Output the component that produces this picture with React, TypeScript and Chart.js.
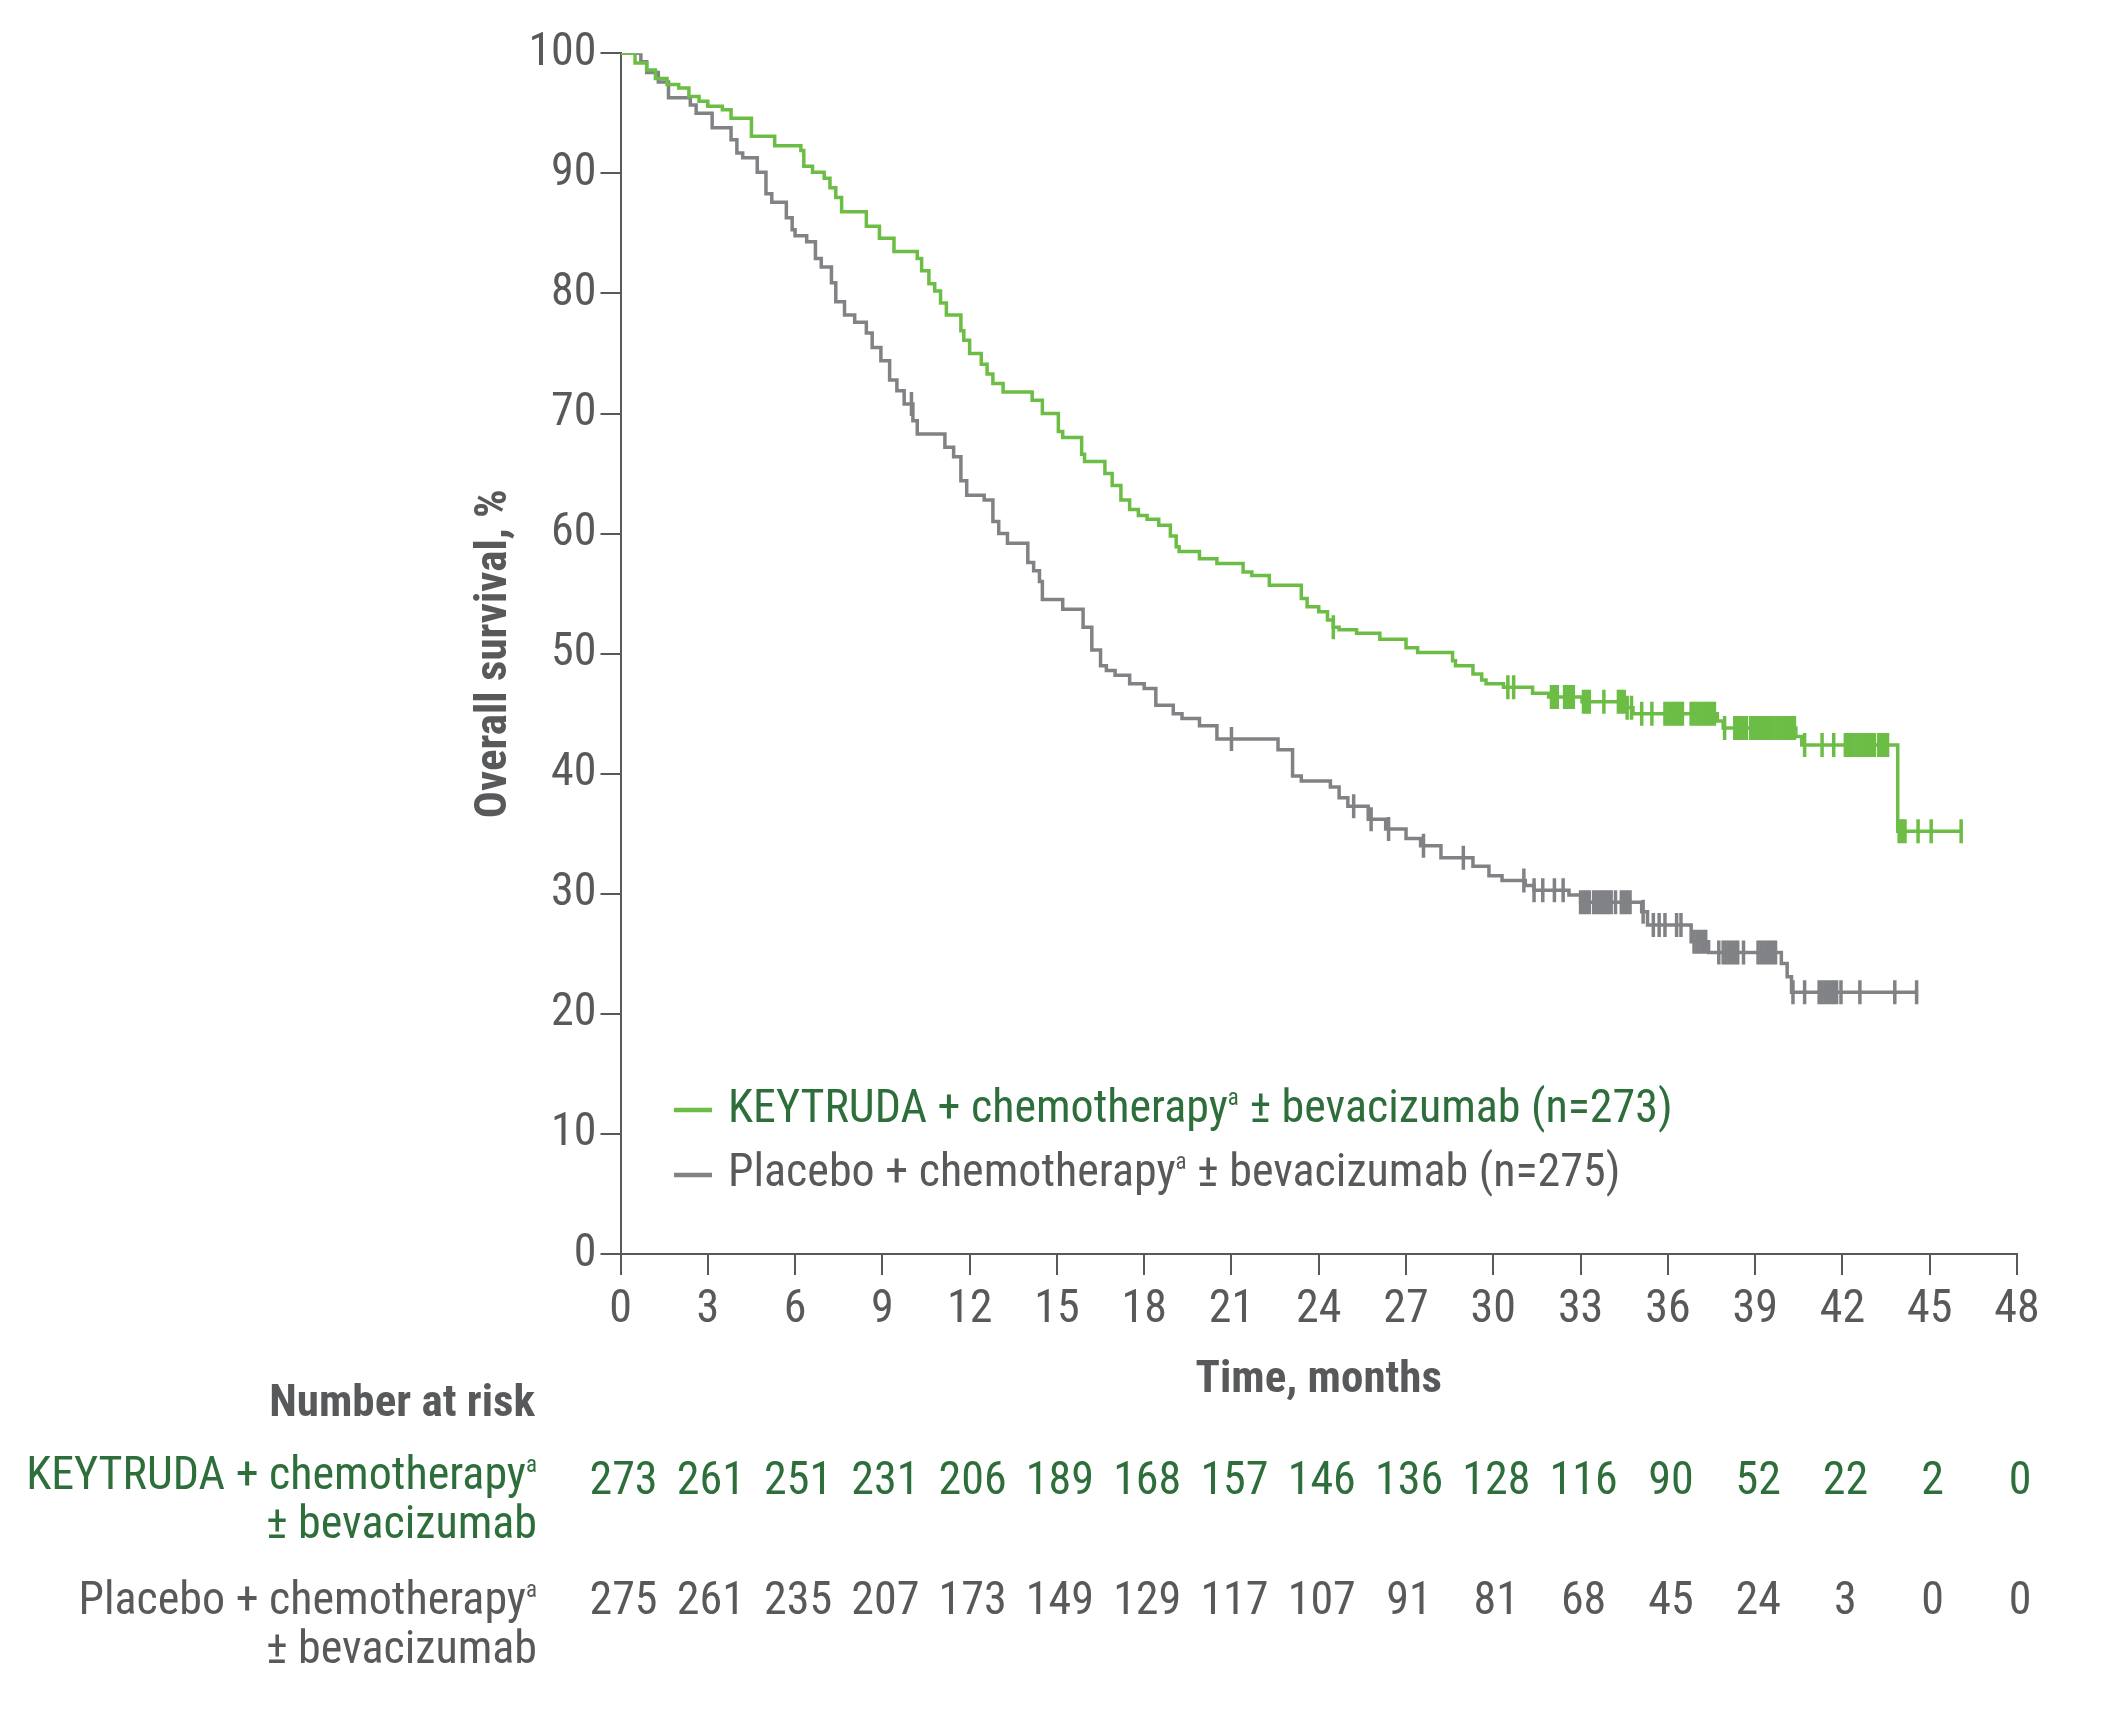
import React, { useEffect, useRef } from 'react';
import { Chart, registerables } from 'chart.js';

Chart.register(...registerables);

// ---------------- DATA ----------------
const xTickMonths = [0, 3, 6, 9, 12, 15, 18, 21, 24, 27, 30, 33, 36, 39, 42, 45, 48];

const keytrudaLabel = 'KEYTRUDA + chemotherapy';
const placeboLabel = 'Placebo + chemotherapy';
const keytrudaN = 273;
const placeboN = 275;

// Kaplan-Meier steps: time (months) at which the curve drops, survival (%) after the drop
const keytrudaEventTimes = [
  0, 0.5, 0.9, 1.2, 1.6, 2.0, 2.35, 2.7, 3.0, 3.5, 3.8, 4.5, 5.3, 6.2, 6.3, 6.6, 7.0, 7.2, 7.4, 7.6,
  8.45, 8.9, 9.4, 10.2, 10.35, 10.6, 10.8, 11.0, 11.2, 11.7, 11.8, 12.0, 12.4, 12.6, 12.8, 13.15,
  14.15, 14.5, 15.05, 15.2, 15.85, 15.95, 16.65, 16.9, 17.2, 17.5, 17.8, 18.1, 18.5, 18.9, 19.1,
  19.2, 19.9, 20.5, 21.4, 21.7, 22.3, 23.4, 23.6, 24.0, 24.3, 24.5, 24.7, 25.3, 26.1, 27.0, 27.4,
  28.6, 28.7, 29.3, 29.6, 29.75, 30.35, 31.35, 31.9, 33.05, 34.6, 34.8, 37.7, 37.9, 40.4, 40.6, 43.9,
];
const keytrudaSurvival = [
  100, 99.2, 98.6, 97.9, 97.4, 97.1, 96.4, 96.0, 95.6, 95.3, 94.6, 93.1, 92.3, 91.9, 90.6, 90.1, 89.6, 88.8, 88.0, 86.8,
  85.6, 84.6, 83.5, 82.9, 81.9, 80.8, 80.2, 79.2, 78.2, 76.9, 76.1, 75.0, 74.1, 73.3, 72.5, 71.8,
  71.1, 70.0, 68.5, 68.0, 66.6, 66.0, 65.0, 64.0, 62.8, 62.0, 61.5, 61.2, 60.7, 59.8, 58.9,
  58.5, 57.9, 57.5, 56.8, 56.5, 55.7, 54.6, 53.9, 53.5, 52.8, 52.2, 52.0, 51.7, 51.2, 50.5, 50.1,
  49.4, 49.0, 48.3, 47.8, 47.5, 47.2, 46.7, 46.4, 46.0, 45.5, 45.0, 44.4, 43.8, 43.1, 42.4, 35.2,
];
const keytrudaCensorTimes = [
  24.5, 30.5, 30.7, 32.0, 32.1, 32.2, 32.45, 32.55, 32.65, 32.75, 33.1, 33.2, 33.3, 33.8, 34.3, 34.4,
  34.5, 34.6, 34.75, 35.1, 35.45, 35.9, 36.0, 36.1, 36.2, 36.3, 36.4, 36.5, 36.8, 36.9, 37.0, 37.1,
  37.2, 37.3, 37.4, 37.5, 37.6, 37.95, 38.3, 38.4, 38.5, 38.6, 38.7, 38.85, 38.95, 39.05, 39.15,
  39.25, 39.35, 39.45, 39.55, 39.65, 39.75, 39.85, 39.95, 40.05, 40.15, 40.25, 40.35, 40.7, 41.3,
  41.7, 42.1, 42.2, 42.3, 42.4, 42.5, 42.6, 42.7, 42.8, 42.9, 43.0, 43.1, 43.25, 43.35, 43.45,
  43.55, 43.95, 44.05, 44.15, 44.6, 45.05, 46.08,
];

const placeboEventTimes = [
  0, 0.7, 0.9, 1.3, 1.65, 2.4, 2.6, 3.15, 3.8, 4.0, 4.2, 4.7, 5.0, 5.2, 5.7, 5.9, 6.0, 6.4, 6.7, 6.9,
  7.25, 7.4, 7.7, 8.05, 8.45, 8.65, 8.95, 9.25, 9.5, 9.75, 10.05, 10.2, 11.15, 11.45, 11.7, 11.9,
  12.5, 12.8, 13.0, 13.3, 14.0, 14.2, 14.4, 14.5, 15.2, 15.9, 16.2, 16.5, 16.7, 17.0, 17.5, 18.0,
  18.4, 19.0, 19.3, 19.9, 20.5, 22.6, 23.1, 23.4, 24.4, 24.7, 25.0, 25.7, 26.3, 27.0, 27.5, 28.2,
  29.3, 29.85, 30.3, 31.1, 31.4, 32.6, 33.0, 35.1, 35.3, 36.8, 37.4, 39.9, 40.1, 40.25,
];
const placeboSurvival = [
  100, 99.3, 98.4, 97.6, 96.3, 95.7, 95.0, 93.8, 92.8, 91.7, 91.3, 90.1, 88.3, 87.6, 86.3, 85.3, 84.8, 84.3, 82.9, 82.2,
  80.9, 79.3, 78.2, 77.6, 76.7, 75.5, 74.4, 72.8, 71.9, 70.8, 69.4, 68.3, 67.2, 66.4, 64.4, 63.2,
  62.8, 61.0, 60.0, 59.2, 57.6, 56.9, 56.0, 54.5, 53.7, 52.2, 50.3, 49.0, 48.6, 48.2, 47.5, 47.1,
  45.7, 45.0, 44.6, 44.0, 42.9, 42.0, 39.8, 39.4, 38.9, 38.0, 37.3, 36.2, 35.4, 34.6, 34.0, 33.0,
  32.3, 31.5, 31.1, 30.7, 30.3, 29.9, 29.3, 28.5, 27.4, 26.0, 25.1, 24.2, 23.1, 21.8,
];
const placeboCensorTimes = [
  10.0, 21.0, 25.2, 25.8, 26.4, 27.6, 28.97, 31.05, 31.4, 31.7, 32.1, 32.4, 33.0, 33.1, 33.2, 33.3,
  33.45, 33.55, 33.65, 33.75, 33.85, 33.95, 34.05, 34.2, 34.4, 34.5, 34.6, 34.7, 35.15, 35.5, 35.7,
  35.9, 36.3, 36.45, 36.9, 37.0, 37.1, 37.2, 37.3, 37.75, 37.9, 38.0, 38.1, 38.2, 38.3, 38.4, 38.6,
  39.1, 39.2, 39.3, 39.4, 39.5, 39.6, 39.7, 40.3, 40.7, 41.2, 41.3, 41.4, 41.5, 41.6, 41.7, 41.8,
  41.95, 42.6, 43.8, 44.55,
];

const riskMonths = [0, 3, 6, 9, 12, 15, 18, 21, 24, 27, 30, 33, 36, 39, 42, 45, 48];
const keytrudaAtRisk = [273, 261, 251, 231, 206, 189, 168, 157, 146, 136, 128, 116, 90, 52, 22, 2, 0];
const placeboAtRisk = [275, 261, 235, 207, 173, 149, 129, 117, 107, 91, 81, 68, 45, 24, 3, 0, 0];

// ---------------- STYLE ----------------
const GREEN_LINE = '#6cbd45';
const GRAY_LINE = '#808285';
const GREEN_TEXT = '#2d6e3b';
const GRAY_TEXT = '#58595b';
const TEXT_SIZE = 46;
const TITLE_SIZE = 45;

function fontExists(name: string): boolean {
  const ctx = document.createElement('canvas').getContext('2d');
  if (!ctx) return false;
  const s = 'KEYTRUDA chemotherapy 0123456789 bevacizumab';
  ctx.font = `40px "${name}", monospace`;
  const a = ctx.measureText(s).width;
  ctx.font = '40px monospace';
  const b = ctx.measureText(s).width;
  ctx.font = `40px "${name}", serif`;
  const c = ctx.measureText(s).width;
  ctx.font = '40px serif';
  const d = ctx.measureText(s).width;
  return Math.abs(a - c) < 0.01 && (Math.abs(a - b) > 0.01 || Math.abs(c - d) > 0.01);
}

function pickFont(): string {
  const cands = ['Roboto Condensed', 'Liberation Sans Narrow', 'Roboto'];
  for (const f of cands) if (fontExists(f)) return f;
  return 'Roboto';
}

function survAt(times: number[], surv: number[], t: number): number {
  let v = surv[0];
  for (let i = 0; i < times.length; i++) {
    if (times[i] <= t) v = surv[i];
    else break;
  }
  return v;
}

type Part = { t: string; sup?: boolean };

function drawRich(
  ctx: CanvasRenderingContext2D,
  parts: Part[],
  x: number,
  y: number,
  size: number,
  align: 'left' | 'right',
  color: string,
  family: string,
  weight = 'normal'
) {
  const supSize = size * 0.5;
  const widths = parts.map((p) => {
    ctx.font = `${weight} ${p.sup ? supSize : size}px "${family}"`;
    return ctx.measureText(p.t).width;
  });
  const total = widths.reduce((a, b) => a + b, 0);
  let cx = align === 'left' ? x : x - total;
  ctx.fillStyle = color;
  ctx.textAlign = 'left';
  ctx.textBaseline = 'alphabetic';
  parts.forEach((p, i) => {
    ctx.font = `${weight} ${p.sup ? supSize : size}px "${family}"`;
    ctx.fillText(p.t, cx, p.sup ? y - size * 0.36 : y);
    cx += widths[i];
  });
}

export default function App() {
  const canvasRef = useRef<HTMLCanvasElement | null>(null);

  useEffect(() => {
    const canvas = canvasRef.current;
    if (!canvas) return;
    const F = pickFont();

    const keySteps = keytrudaEventTimes.map((t, i) => ({ x: t, y: keytrudaSurvival[i] }));
    keySteps.push({ x: keytrudaCensorTimes[keytrudaCensorTimes.length - 1], y: keytrudaSurvival[keytrudaSurvival.length - 1] });
    const plaSteps = placeboEventTimes.map((t, i) => ({ x: t, y: placeboSurvival[i] }));
    plaSteps.push({ x: placeboCensorTimes[placeboCensorTimes.length - 1], y: placeboSurvival[placeboSurvival.length - 1] });

    const keyCensor = keytrudaCensorTimes.map((t) => ({ x: t, y: survAt(keytrudaEventTimes, keytrudaSurvival, t) }));
    const plaCensor = placeboCensorTimes.map((t) => ({ x: t, y: survAt(placeboEventTimes, placeboSurvival, t) }));

    const overlay = {
      id: 'kmOverlay',
      afterDraw(chart: any) {
        const ctx: CanvasRenderingContext2D = chart.ctx;
        const xs = chart.scales.x;
        ctx.save();
        // legend inside plot
        const legendRows = [
          { color: GREEN_LINE, text: GREEN_TEXT, label: keytrudaLabel, n: keytrudaN, base: 1122, lineY: 1110 },
          { color: GRAY_LINE, text: GRAY_TEXT, label: placeboLabel, n: placeboN, base: 1186, lineY: 1175 },
        ];
        legendRows.forEach((r) => {
          ctx.strokeStyle = r.color;
          ctx.lineWidth = 4.5;
          ctx.beginPath();
          ctx.moveTo(674, r.lineY);
          ctx.lineTo(712, r.lineY);
          ctx.stroke();
          drawRich(ctx, [{ t: r.label }, { t: 'a', sup: true }, { t: ` ± bevacizumab (n=${r.n})` }], 728, r.base, TEXT_SIZE, 'left', r.text, F);
        });

        // number at risk table
        ctx.font = `bold ${TITLE_SIZE}px "${F}"`;
        ctx.fillStyle = GRAY_TEXT;
        ctx.textAlign = 'right';
        ctx.textBaseline = 'alphabetic';
        ctx.fillText('Number at risk', 535, 1416);

        const rows = [
          { label: keytrudaLabel, color: GREEN_TEXT, vals: keytrudaAtRisk, base: 1489, numBase: 1494 },
          { label: placeboLabel, color: GRAY_TEXT, vals: placeboAtRisk, base: 1614, numBase: 1614 },
        ];
        rows.forEach((r) => {
          drawRich(ctx, [{ t: r.label }, { t: 'a', sup: true }], 537, r.base, TEXT_SIZE, 'right', r.color, F);
          drawRich(ctx, [{ t: '± bevacizumab' }], 537, r.base + 49, TEXT_SIZE, 'right', r.color, F);
          ctx.font = `${TEXT_SIZE}px "${F}"`;
          ctx.fillStyle = r.color;
          ctx.textAlign = 'center';
          r.vals.forEach((v, i) => {
            ctx.fillText(String(v), xs.getPixelForValue(riskMonths[i]) + 3, r.numBase);
          });
        });
        ctx.restore();
      },
    };

    const tickFont = { family: F, size: TEXT_SIZE, weight: 'normal' as const };
    const titleFont = { family: F, size: TITLE_SIZE, weight: 'bold' as const, lineHeight: 1.2 };

    const chart = new Chart(canvas, {
      type: 'line',
      data: {
        datasets: [
          {
            label: keytrudaLabel,
            data: keySteps,
            stepped: 'before',
            borderColor: GREEN_LINE,
            borderWidth: 3.5,
            pointRadius: 0,
            fill: false,
            order: 2,
          } as any,
          {
            type: 'scatter',
            label: 'keytruda censored',
            data: keyCensor,
            showLine: false,
            pointStyle: 'line',
            rotation: 90,
            radius: 12,
            pointRadius: 12,
            pointBorderWidth: 3.5,
            borderWidth: 3.5,
            borderColor: GREEN_LINE,
            backgroundColor: GREEN_LINE,
            order: 1,
          } as any,
          {
            label: placeboLabel,
            data: plaSteps,
            stepped: 'before',
            borderColor: GRAY_LINE,
            borderWidth: 3.5,
            pointRadius: 0,
            fill: false,
            order: 4,
          } as any,
          {
            type: 'scatter',
            label: 'placebo censored',
            data: plaCensor,
            showLine: false,
            pointStyle: 'line',
            rotation: 90,
            radius: 12,
            pointRadius: 12,
            pointBorderWidth: 3.5,
            borderWidth: 3.5,
            borderColor: GRAY_LINE,
            backgroundColor: GRAY_LINE,
            order: 3,
          } as any,
        ],
      },
      options: {
        responsive: false,
        maintainAspectRatio: false,
        devicePixelRatio: 1,
        animation: false,
        events: [],
        layout: { padding: { left: 468, top: 53.3, right: 84, bottom: 302 } },
        plugins: { legend: { display: false }, tooltip: { enabled: false } },
        scales: {
          x: {
            type: 'linear',
            min: 0,
            max: 48,
            afterFit: (s: any) => {
              s.height = 154;
            },
            afterBuildTicks: (s: any) => {
              s.ticks = xTickMonths.map((v) => ({ value: v }));
            },
            ticks: {
              autoSkip: false,
              maxRotation: 0,
              padding: 7.4,
              color: GRAY_TEXT,
              font: tickFont,
            },
            grid: { drawOnChartArea: false, drawTicks: true, tickLength: 21, color: GRAY_TEXT, lineWidth: 2 },
            border: { display: true, color: GRAY_TEXT, width: 2 },
            title: { display: true, text: 'Time, months', color: GRAY_TEXT, font: titleFont, padding: 0 },
          },
          y: {
            type: 'linear',
            min: 0,
            max: 100,
            afterFit: (s: any) => {
              s.width = 152.5;
            },
            ticks: { stepSize: 10, padding: 4, color: GRAY_TEXT, font: tickFont },
            grid: { drawOnChartArea: false, drawTicks: true, tickLength: 20, color: GRAY_TEXT, lineWidth: 2 },
            border: { display: true, color: GRAY_TEXT, width: 2 },
            title: { display: true, text: 'Overall survival, %', color: GRAY_TEXT, font: titleFont, padding: 0 },
          },
        },
      },
      plugins: [overlay],
    });

    return () => chart.destroy();
  }, []);

  return (
    <div style={{ position: 'fixed', left: 0, top: 0, width: 2101, height: 1710, background: '#ffffff' }}>
      <canvas ref={canvasRef} width={2101} height={1710} style={{ display: 'block', width: 2101, height: 1710 }} />
    </div>
  );
}
